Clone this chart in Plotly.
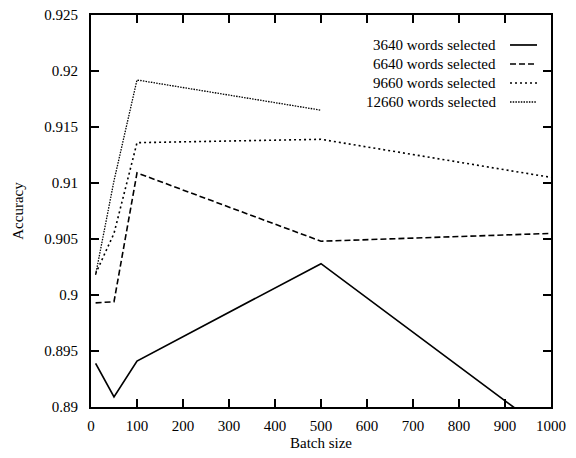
import plotly.graph_objects as go

batch_sizes = [10, 50, 100, 500, 1000]
acc_3640 = [0.8939, 0.8909, 0.8941, 0.9028, 0.8875]
acc_6640 = [0.8993, 0.8994, 0.9109, 0.9048, 0.9055]
acc_9660 = [0.9019, 0.9055, 0.9136, 0.9139, 0.9105]
batch_12660 = [10, 50, 100, 500]
acc_12660 = [0.9018, 0.9102, 0.9192, 0.9165]

series_names = ["3640 words selected", "6640 words selected",
                "9660 words selected", "12660 words selected"]
x_ticks = [0, 100, 200, 300, 400, 500, 600, 700, 800, 900, 1000]
y_ticks = [0.89, 0.895, 0.9, 0.905, 0.91, 0.915, 0.92, 0.925]
y_tick_labels = ["0.89", "0.895", "0.9", "0.905", "0.91", "0.915", "0.92", "0.925"]

FONT = "Liberation Serif"
dashes = ["solid", "6px,3px", "2px,3px", "1.5px,1.2px"]
widths = [1.7, 1.6, 1.6, 1.3]

fig = go.Figure()
xs = [batch_sizes, batch_sizes, batch_sizes, batch_12660]
ys = [acc_3640, acc_6640, acc_9660, acc_12660]
for name, x, y, d, w in zip(series_names, xs, ys, dashes, widths):
    fig.add_trace(go.Scatter(x=x, y=y, mode="lines", name=name,
                             line=dict(color="black", width=w, dash=d),
                             showlegend=False))

# custom legend: text right-aligned, sample line on the right (gnuplot style)
leg_top = 0.9235
leg_step = 0.0485
for i, (name, d, w) in enumerate(zip(series_names, dashes, widths)):
    yy = leg_top - i * leg_step
    fig.add_annotation(xref="paper", yref="paper", x=0.8848, y=yy, text=name,
                       showarrow=False, xanchor="right", yanchor="middle",
                       font=dict(family=FONT, size=15, color="black"))
    fig.add_shape(type="line", xref="paper", yref="paper",
                  x0=0.9109, x1=0.9696, y0=yy, y1=yy,
                  line=dict(color="black", width=w, dash=d))

axis_common = dict(showline=True, linecolor="black", linewidth=1.8, mirror="ticks",
                   ticks="inside", ticklen=8, tickwidth=1.5, tickcolor="black",
                   showgrid=False, zeroline=False, automargin=False,
                   tickfont=dict(family=FONT, size=15, color="black"))

fig.update_xaxes(range=[0, 1000], tickvals=x_ticks, ticklabelstandoff=4,
                 title=dict(text="Batch size", font=dict(family=FONT, size=15, color="black"),
                            standoff=5),
                 **axis_common)
fig.update_yaxes(range=[0.89, 0.925], tickvals=y_ticks, ticktext=y_tick_labels,
                 ticklabelstandoff=8,
                 title=dict(text="Accuracy", font=dict(family=FONT, size=15, color="black"),
                            standoff=17),
                 **axis_common)

fig.update_layout(width=576, height=458,
                  margin=dict(l=91, r=25, t=15, b=51),
                  plot_bgcolor="white", paper_bgcolor="white",
                  font=dict(family=FONT, size=15, color="black"))

fig.write_html("out.html", config={"displayModeBar": False},
               post_script="document.body.style.margin='0';document.body.style.overflow='hidden';")
